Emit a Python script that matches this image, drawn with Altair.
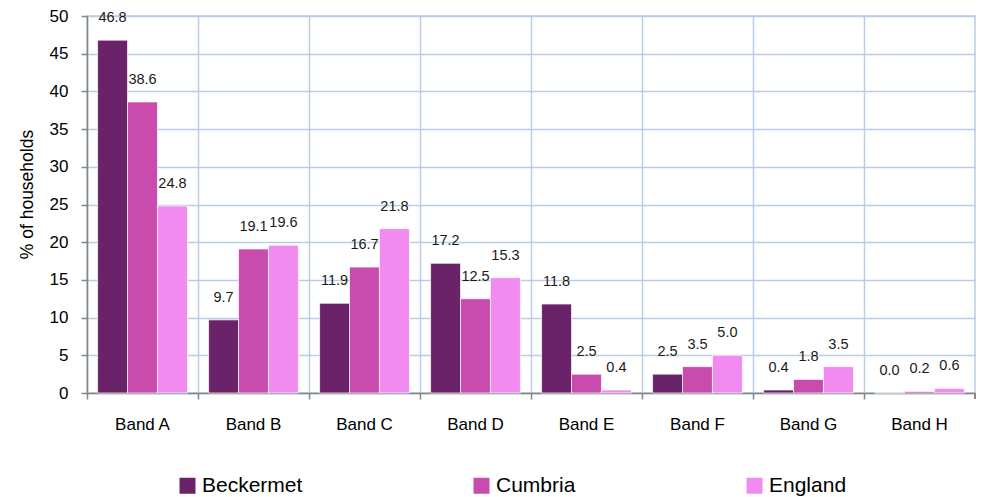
import altair as alt
import pandas as pd

bands = ["Band A", "Band B", "Band C", "Band D", "Band E", "Band F", "Band G", "Band H"]
series = ["Beckermet", "Cumbria", "England"]
beckermet = [46.8, 9.7, 11.9, 17.2, 11.8, 2.5, 0.4, 0.0]
cumbria = [38.6, 19.1, 16.7, 12.5, 2.5, 3.5, 1.8, 0.2]
england = [24.8, 19.6, 21.8, 15.3, 0.4, 5.0, 3.5, 0.6]
colors = ["#6A2368", "#C84BAD", "#F28BEF"]
y_ticks = [0, 5, 10, 15, 20, 25, 30, 35, 40, 45, 50]

rows = []
for name, vals in zip(series, [beckermet, cumbria, england]):
    for b, v in zip(bands, vals):
        rows.append({"band": b, "area": name, "value": v, "label": f"{v:.1f}"})
df = pd.DataFrame(rows)

FONT = "Liberation Sans"
GRID = "#B9CDE5"
AXIS = "#868686"

x = alt.X(
    "band:N", sort=bands,
    scale=alt.Scale(paddingInner=0, paddingOuter=0),
    axis=alt.Axis(title=None, labelAngle=0, bandPosition=0, grid=True,
                  gridColor=GRID, gridWidth=1.5, ticks=True, tickSize=6,
                  tickColor=AXIS, tickWidth=1.5, domainColor=AXIS, domainWidth=1.5,
                  labelFontSize=17, labelFont=FONT, labelColor="#000",
                  labelPadding=17),
)
xo = alt.XOffset("area:N", sort=series,
                 scale=alt.Scale(paddingInner=0, paddingOuter=0.354))
y = alt.Y(
    "value:Q",
    scale=alt.Scale(domain=[0, 50], nice=False),
    axis=alt.Axis(title="% of households", values=y_ticks, grid=True,
                  gridColor=GRID, gridWidth=1.5, tickSize=6, tickColor=AXIS,
                  tickWidth=1.5, domainColor=AXIS, domainWidth=1.5,
                  labelFontSize=17, labelFont=FONT, labelColor="#000",
                  labelPadding=13, titleFont=FONT, titleFontSize=17.5,
                  titleFontWeight="normal", titleColor="#000", titlePadding=13,
                  titleY=178),
)
color = alt.Color(
    "area:N", sort=series,
    scale=alt.Scale(domain=series, range=colors),
    legend=alt.Legend(title=None, orient="none", legendX=90, legendY=459,
                      direction="horizontal", symbolType="square",
                      symbolSize=256, symbolStrokeWidth=0, symbolOpacity=1,
                      labelFontSize=21, labelFont=FONT, labelColor="#000",
                      columnPadding=168, labelOffset=4, padding=0),
)

bars = alt.Chart(df).mark_bar(stroke="white", strokeWidth=0.7).encode(
    x=x, xOffset=xo, y=y, color=color
)
labels = alt.Chart(df).mark_text(
    fontSize=14.5, font=FONT, baseline="alphabetic", dy=-18, color="#1a1a1a"
).encode(x=x, xOffset=xo, y=y, text="label:N")
end_tick = alt.Chart(df).mark_rule(color=AXIS, strokeWidth=1.5).encode(
    x=alt.value(888), y=alt.value(377), y2=alt.value(383)
)

chart = (
    alt.layer(bars, labels, end_tick)
    .properties(width=888, height=377,
                autosize=alt.AutoSizeParams(type="none"),
                padding={"left": 79, "top": 8, "right": 1, "bottom": 104})
    .configure_view(stroke=GRID, strokeWidth=1.5)
)

chart.save("out.html", embed_options={"renderer": "svg", "actions": False})
